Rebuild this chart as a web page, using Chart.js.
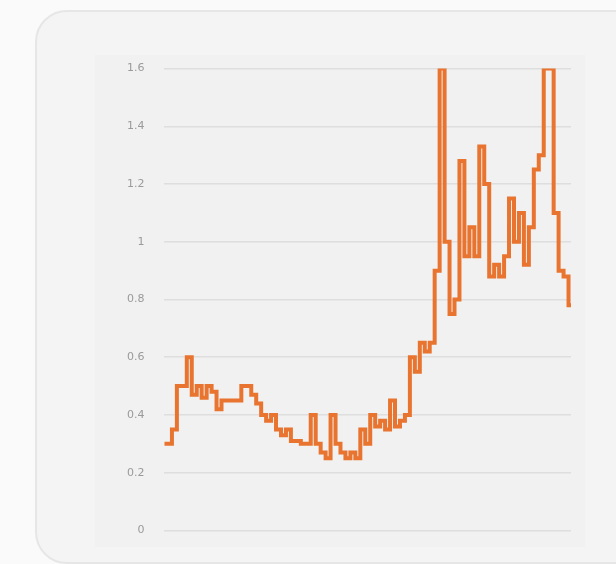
<!DOCTYPE html>
<html>
<head>
<meta charset="utf-8">
<script src="https://cdn.jsdelivr.net/npm/chart.js@4"></script>
<style>
  html, body { margin: 0; padding: 0; background: #fafafa; width: 616px; height: 564px; overflow: hidden; }
  .card {
    position: absolute; left: 35px; top: 10px; width: 620px; height: 550px;
    background: #f4f4f4; border: 2px solid #e6e6e6; border-radius: 32px;
  }
  .plot {
    position: absolute; left: 95px; top: 55px; width: 490px; height: 492px;
    background: #f1f1f1;
  }
  #lineCanvas { position: absolute; left: 95px; top: 42px; }
</style>
</head>
<body>
<div class="card"></div>
<div class="plot"></div>
<canvas id="lineCanvas" width="490" height="515"></canvas>
<script>
const values = [
  0.3, 0.3, 0.35, 0.5, 0.5, 0.6, 0.47, 0.5, 0.46, 0.5,
  0.48, 0.42, 0.45, 0.45, 0.45, 0.45, 0.5, 0.5, 0.47, 0.44,
  0.4, 0.38, 0.4, 0.35, 0.33, 0.35, 0.31, 0.31, 0.3, 0.3,
  0.4, 0.3, 0.27, 0.25, 0.4, 0.3, 0.27, 0.25, 0.27, 0.25,
  0.35, 0.3, 0.4, 0.36, 0.38, 0.35, 0.45, 0.36, 0.38, 0.4,
  0.6, 0.55, 0.65, 0.62, 0.65, 0.9, 1.6, 1.0, 0.75, 0.8,
  1.28, 0.95, 1.05, 0.95, 1.33, 1.2, 0.88, 0.92, 0.88, 0.95,
  1.15, 1.0, 1.1, 0.92, 1.05, 1.25, 1.3, 1.6, 1.6, 1.1,
  0.9, 0.88, 0.78
];
const labels = values.map((v, i) => String(i)); // x, not shown
const yMin = 0;
const yMax = 1.6;
const yStep = 0.2;

const lineCanvas = document.getElementById('lineCanvas');

const lineChart = new Chart(lineCanvas, {
  type: "line",
  data: {
    labels: labels,
    datasets: [{
      data: values,
      borderColor: "#e8742f",
      borderWidth: 4,
      pointRadius: 0,
      stepped: "middle",
      fill: false
    }]
  },
  options: {
    responsive: false,
    animation: false,
    layout: { padding: { top: 0, right: 14, bottom: 4, left: 12 } },
    plugins: { legend: { display: false }, tooltip: { enabled: false } },
    scales: {
      x: { display: false },
      y: {
        min: yMin,
        max: yMax,
        border: { display: false },
        grid: { color: "#dedede", lineWidth: 1.5, drawTicks: false },
        ticks: {
          stepSize: yStep,
          padding: 20,
          color: "#9a9a9a",
          font: { family: "DejaVu Sans", size: 11 },
          callback: v => String(Math.round(v * 10) / 10) // 1 pas 1.0
        }
      }
    }
  }
});
</script>
</body>
</html>
